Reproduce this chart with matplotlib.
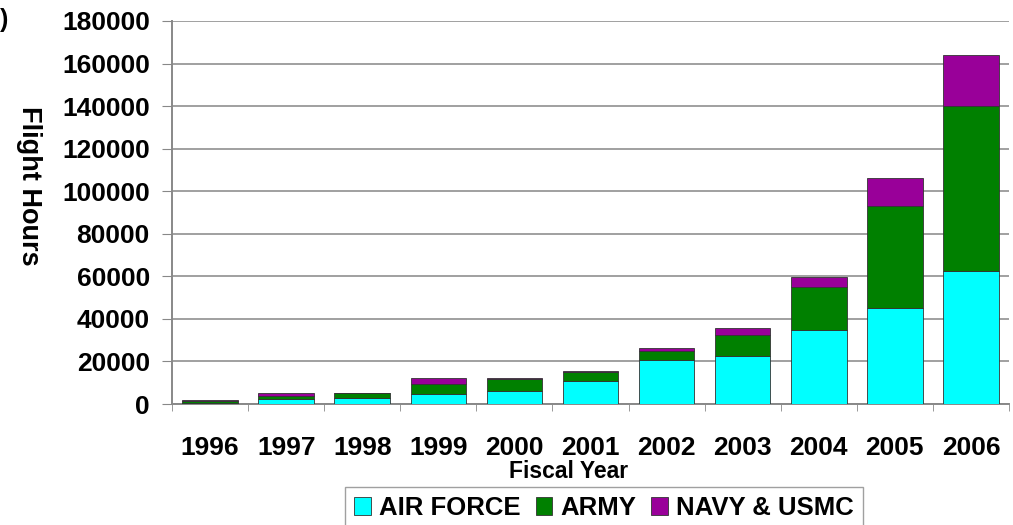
import matplotlib
matplotlib.use("Agg")
import matplotlib.pyplot as plt
import numpy as np
from matplotlib.ticker import FixedLocator

years = ["1996", "1997", "1998", "1999", "2000", "2001", "2002", "2003", "2004", "2005", "2006"]
air_force = [400, 2300, 2800, 4900, 6300, 10800, 20700, 22700, 34800, 45100, 62600]
army = [1000, 1400, 2300, 4700, 5500, 4200, 4300, 9700, 20300, 47800, 77600]
navy_usmc = [600, 1500, 300, 2800, 400, 600, 1300, 3100, 4700, 13300, 23800]
series_names = ["AIR FORCE", "ARMY", "NAVY & USMC"]
yticks = [0, 20000, 40000, 60000, 80000, 100000, 120000, 140000, 160000, 180000]

plt.rcParams['font.family'] = ['Liberation Sans', 'DejaVu Sans']
plt.rcParams['font.weight'] = 'bold'

W, H = 1013, 525
fig = plt.figure(figsize=(W / 100, H / 100), dpi=100)
ax = fig.add_axes([172 / W, 1 - 404 / H, (1009 - 172) / W, (404 - 21) / H])

x = np.arange(len(years))
w = 0.73
af = np.array(air_force)
ar = np.array(army)
nv = np.array(navy_usmc)
colors = ["#00FFFF", "#008000", "#990099"]
ax.bar(x, af, w, color=colors[0], edgecolor="#333333", linewidth=0.6, label=series_names[0], zorder=3)
ax.bar(x, ar, w, bottom=af, color=colors[1], edgecolor="#333333", linewidth=0.6, label=series_names[1], zorder=3)
ax.bar(x, nv, w, bottom=af + ar, color=colors[2], edgecolor="#333333", linewidth=0.6, label=series_names[2], zorder=3)

ax.set_xlim(-0.5, len(years) - 0.5)
ax.set_ylim(0, 180000)
ax.set_yticks(yticks)
ax.set_yticklabels([str(v) for v in yticks], fontsize=19, fontweight='bold')
ax.set_xticks(x)
ax.set_xticklabels(years, fontsize=19, fontweight='bold')
ax.xaxis.set_minor_locator(FixedLocator(np.arange(-0.5, len(years), 1.0)))
ax.tick_params(axis='x', which='major', length=0, pad=23)
ax.tick_params(axis='x', which='minor', length=5, color="#888888", direction='out')
ax.tick_params(axis='y', which='major', length=7, color="#888888", direction='out', pad=9)

ax.grid(axis='y', color="#999999", linewidth=1.3, zorder=0)
for s in ['top', 'right']:
    ax.spines[s].set_visible(False)
ax.spines['left'].set_color("#888888")
ax.spines['left'].set_linewidth(1.4)
ax.spines['bottom'].set_color("#888888")
ax.spines['bottom'].set_linewidth(1.4)

fig.text(569 / W, 1 - 472 / H, "Fiscal Year", fontsize=16.5, fontweight='bold', ha='center', va='center')
fig.text(29 / W, 1 - 186 / H, "Flight Hours", fontsize=19.5, fontweight='bold', rotation=270,
         ha='center', va='center')

leg = ax.legend(loc='upper center', bbox_to_anchor=((604 - 172) / 837, (404 - 487) / 383), ncol=3,
                fontsize=18.5, frameon=True, fancybox=False, edgecolor="#888888", handlelength=0.65,
                handleheight=0.65, handletextpad=0.3, columnspacing=0.6, borderpad=0.35,
                borderaxespad=0)
leg.get_frame().set_linewidth(1.0)
for t in leg.get_texts():
    t.set_fontweight('bold')

fig.text(0.0, 1 - 20 / H, ")", fontsize=18, fontweight='bold', ha='left', va='center')

fig.savefig("out.png", dpi=100)
